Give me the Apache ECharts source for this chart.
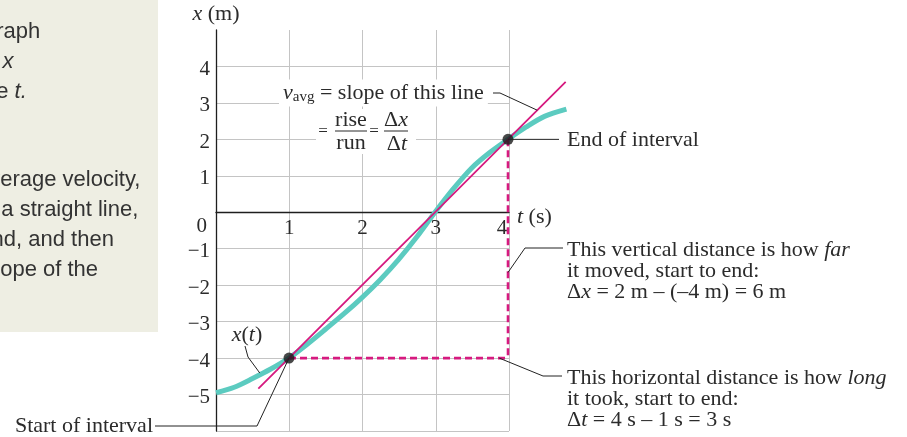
<!DOCTYPE html>
<html>
<head>
<meta charset="utf-8">
<script src="https://cdn.jsdelivr.net/npm/echarts@6/dist/echarts.min.js"></script>
<style>
  html, body { margin: 0; padding: 0; background: #fff; }
  #chart { width: 907px; height: 437px; }
</style>
</head>
<body>
<div id="chart"></div>
<script>
// position x(t)
const tValues = [0, 0.25, 0.5, 0.75, 1, 1.25, 1.5, 1.75, 2, 2.25, 2.5, 2.75, 3, 3.25, 3.5, 3.75, 4, 4.25, 4.5, 4.8];
const xValues = [-4.95, -4.8, -4.56, -4.3, -4, -3.62, -3.21, -2.79, -2.34, -1.85, -1.3, -0.68, 0, 0.64, 1.21, 1.64, 2, 2.34, 2.63, 2.83];

// straight line from start to end of interval (magenta)
const secantT = [0.58, 1, 4, 4.79];
const secantX = [-4.84, -4, 2, 3.58];

// start and end of interval
const startPoint = [1, -4];
const endPoint = [4, 2];

// axis ticks
const tTicks = [1, 2, 3, 4];
const xTicks = [-5, -4, -3, -2, -1, 0, 1, 2, 3, 4];

const SERIF = '"Liberation Serif", "DejaVu Serif", serif';
const SANS = '"Liberation Sans", Arial, sans-serif';
const INK = '#2b2b2b';
const CYAN = '#5ccbc0';
const MAGENTA = '#d61a7f';
const GRID = '#c4c4c4';
const FS = 22;

const chart = echarts.init(document.getElementById('chart'));

const minus = (v) => (v < 0 ? '\u2212' + Math.abs(v) : String(v));

// 12 split lines on y (-6..5): hide the top one
const ySplitColors = [];
for (let v = -6; v <= 5; v++) ySplitColors.push(v === 5 ? 'transparent' : GRID);

const tickFont = { fontFamily: SERIF, fontSize: 21, color: INK };

const option = {
  animation: false,
  backgroundColor: '#fff',
  grid: [
    { left: 216, top: 30, width: 293, height: 401, outerBoundsMode: 'none', containLabel: false },
    { left: 216, top: 30, width: 365, height: 401, outerBoundsMode: 'none', containLabel: false }
  ],
  xAxis: [
    {
      type: 'value', gridIndex: 0, min: 0, max: 4, interval: 1, position: 'bottom',
      name: '{i|t} (s)', nameLocation: 'end', nameGap: 8,
      nameTextStyle: {
        color: INK, fontFamily: SERIF, fontSize: FS, padding: [10, 0, 0, 0],
        rich: { i: { fontStyle: 'italic', fontFamily: SERIF, fontSize: FS, color: INK } }
      },
      axisLine: { onZero: false, lineStyle: { color: '#1e1e1e', width: 1.3 } },
      axisTick: { show: false },
      splitLine: { show: true, lineStyle: { color: GRID, width: 1 } },
      axisLabel: Object.assign({
        margin: 6,
        formatter: (v) => (tTicks.indexOf(v) < 0 ? '' : v === 4 ? '{f|4}' : String(v)),
        rich: { f: Object.assign({ padding: [0, 14, 0, 0] }, tickFont) }
      }, tickFont)
    },
    { type: 'value', gridIndex: 1, min: 0, max: 5, show: false }
  ],
  yAxis: [
    {
      type: 'value', gridIndex: 0, min: -6, max: 5, interval: 1,
      name: '{i|x} (m)', nameLocation: 'end', nameGap: 5,
      nameTextStyle: {
        color: INK, fontFamily: SERIF, fontSize: FS,
        rich: { i: { fontStyle: 'italic', fontFamily: SERIF, fontSize: FS, color: INK } }
      },
      axisLine: { onZero: false, lineStyle: { color: '#1e1e1e', width: 1.3 } },
      axisTick: { show: false },
      splitLine: { show: true, lineStyle: { color: ySplitColors, width: 1 } },
      axisLabel: Object.assign({
        margin: 6,
        formatter: (v) => (xTicks.indexOf(v) < 0 ? '' : v === 0 ? '{z|0}' : '{n|' + minus(v) + '}'),
        rich: {
          n: Object.assign({ padding: [6, 0, 0, 0] }, tickFont),
          z: Object.assign({ padding: [28, 3, 0, 0] }, tickFont)
        }
      }, tickFont)
    },
    { type: 'value', gridIndex: 1, min: -6, max: 5, show: false }
  ],
  series: [
    {
      name: 'x(t)', type: 'line', xAxisIndex: 1, yAxisIndex: 1,
      data: tValues.map((t, i) => [t, xValues[i]]),
      smooth: 0.3, showSymbol: false, z: 3,
      lineStyle: { color: CYAN, width: 5 }
    },
    {
      name: 'secant', type: 'line', xAxisIndex: 1, yAxisIndex: 1,
      data: secantT.map((t, i) => [t, secantX[i]]),
      showSymbol: false, z: 4,
      lineStyle: { color: MAGENTA, width: 1.8 }
    },
    {
      name: 'Δx', type: 'line', xAxisIndex: 1, yAxisIndex: 1,
      data: [endPoint, [endPoint[0], startPoint[1]]],
      showSymbol: false, z: 4,
      lineStyle: { color: MAGENTA, width: 2.6, type: [7, 4] }
    },
    {
      name: 'Δt', type: 'line', xAxisIndex: 1, yAxisIndex: 1,
      data: [startPoint, [endPoint[0], startPoint[1]]],
      showSymbol: false, z: 4,
      lineStyle: { color: MAGENTA, width: 2.6, type: [7, 4] }
    },
    {
      name: 'interval', type: 'scatter', xAxisIndex: 1, yAxisIndex: 1,
      data: [startPoint, endPoint],
      symbolSize: 11, z: 6,
      itemStyle: { color: '#1a1a1a' }
    }
  ]
};

chart.setOption(option);

const px = (t, x) => chart.convertToPixel({ xAxisIndex: 1, yAxisIndex: 1 }, [t, x]);

// move the t axis (line, labels, name) up to x = 0
const gridBottom = 30 + 401;
chart.setOption({ xAxis: [{ offset: px(0, 0)[1] - gridBottom }] });

// annotations, anchored to data points where they touch the chart
const italic = { fontStyle: 'italic', fontFamily: SERIF, fontSize: FS, fill: INK };
const serifText = (x, y, text, extra) => ({
  type: 'text', z: 50,
  style: Object.assign({
    x, y, text, fill: INK, fontFamily: SERIF, fontSize: FS,
    lineHeight: 21, rich: { i: italic }
  }, extra || {})
});
const leader = (points) => ({
  type: 'polyline', z: 50, silent: true,
  shape: { points },
  style: { stroke: '#222', lineWidth: 1, fill: null }
});

const pStart = px(startPoint[0], startPoint[1]);
const pEnd = px(endPoint[0], endPoint[1]);

chart.setOption({
  graphic: [
    // side panel
    {
      type: 'rect', z: 1, silent: true,
      shape: { x: 0, y: 0, width: 158, height: 332 },
      style: { fill: '#eeeee3' }
    },
    {
      type: 'text', z: 2,
      style: {
        x: -104, y: 17, fill: '#333', fontFamily: SANS, fontSize: 22, lineHeight: 30,
        text: 'This is a graph\nof position {i|x}\nversus time {i|t.}',
        rich: { i: { fontStyle: 'italic', fontFamily: SANS, fontSize: 22, fill: '#333' } }
      }
    },
    {
      type: 'text', z: 2,
      style: {
        x: -94, y: 165, fill: '#333', fontFamily: SANS, fontSize: 22, lineHeight: 30,
        text: 'To find average velocity,\nfirst draw a straight line,\nstart to end, and then\nfind the slope of the\nline.'
      }
    },

    // v_avg label with white box over the grid
    serifText(279, 93, '{i|v}{s|avg} = slope of this line', {
      verticalAlign: 'middle', backgroundColor: '#fff', padding: [3, 4, 3, 4],
      rich: { i: italic, s: { fontFamily: SERIF, fontSize: 15, fill: INK, padding: [9, 0, 0, 0] } }
    }),
    leader([[493, 93], [500, 93], px(4.4, 2.8)]),
    {
      type: 'rect', z: 49, silent: true,
      shape: { x: 316, y: 109, width: 100, height: 45 },
      style: { fill: '#fff' }
    },
    serifText(323, 132, '=', { align: 'center', verticalAlign: 'middle', fontSize: 17 }),
    serifText(351, 120, 'rise', { align: 'center', verticalAlign: 'middle' }),
    { type: 'line', z: 50, shape: { x1: 335, y1: 131, x2: 367, y2: 131 }, style: { stroke: INK, lineWidth: 1 } },
    serifText(351, 143, 'run', { align: 'center', verticalAlign: 'middle' }),
    serifText(374, 132, '=', { align: 'center', verticalAlign: 'middle', fontSize: 17 }),
    serifText(396, 120, 'Δ{i|x}', { align: 'center', verticalAlign: 'middle' }),
    { type: 'line', z: 50, shape: { x1: 384, y1: 131, x2: 408, y2: 131 }, style: { stroke: INK, lineWidth: 1 } },
    serifText(397, 144, 'Δ{i|t}', { align: 'center', verticalAlign: 'middle' }),

    // end of interval
    leader([pEnd, [pEnd[0] + 51, pEnd[1]]]),
    serifText(567, pEnd[1] + 1, 'End of interval', { verticalAlign: 'middle' }),

    // vertical distance
    leader([px(4, -1.65), [525, 248], [563, 248]]),
    serifText(567, 240, 'This vertical distance is how {i|far}\nit moved, start to end:\nΔ{i|x} = 2 m – (–4 m) = 6 m'),

    // horizontal distance
    leader([px(3.88, -4), [543, 376], [562, 376]]),
    serifText(567, 368, 'This horizontal distance is how {i|long}\nit took, start to end:\nΔ{i|t} = 4 s – 1 s = 3 s'),

    // x(t) label
    serifText(247, 335, '{i|x}({i|t})', { align: 'center', verticalAlign: 'middle' }),
    leader([[245, 346], [248, 357], px(0.6, -4.41)]),

    // start of interval
    serifText(153, 426, 'Start of interval', { align: 'right', verticalAlign: 'middle' }),
    leader([[155, 426], [257, 426], pStart])
  ]
});
</script>
</body>
</html>
